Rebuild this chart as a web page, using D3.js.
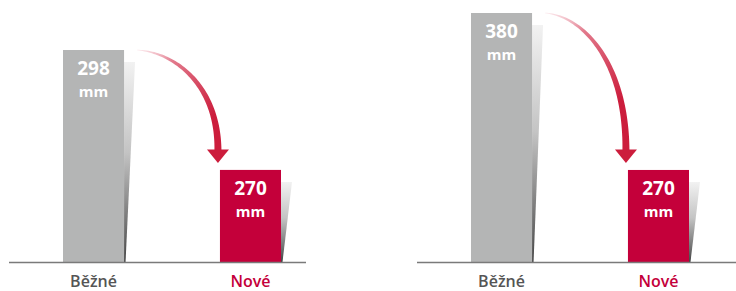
<!DOCTYPE html>
<html>
<head>
<meta charset="utf-8">
<script src="https://cdn.jsdelivr.net/npm/d3@7"></script>
<style>
body { margin: 0; background: #fff; }
text { font-family: "Open Sans", "Noto Sans", sans-serif; }
</style>
</head>
<body>
<div id="c"></div>
<script>
var categories = ["Běžné", "Nové"];
var panel_left = [298, 270];
var panel_right = [380, 270];
var unit = "mm";

var width = 736, height = 291;
var base_y = 262;
var grey = "#b4b5b5", red = "#c4003a";

var svg = d3.select("#c").append("svg")
	.attr("width", width)
	.attr("height", height);

var defs = svg.append("defs");

var shadow = defs.append("linearGradient")
	.attr("id", "shadow")
	.attr("x1", "0%").attr("y1", "0%")
	.attr("x2", "0%").attr("y2", "100%");
shadow.append("stop").attr("offset", "0%").attr("stop-color", "#f2f2f2");
shadow.append("stop").attr("offset", "45%").attr("stop-color", "#c4c4c4");
shadow.append("stop").attr("offset", "85%").attr("stop-color", "#6a6a6a");
shadow.append("stop").attr("offset", "100%").attr("stop-color", "#444");

function draw_panel(g_id, values, x_range, axis_range, y_min, y_top) {
	var g = svg.append("g").attr("id", g_id);

	var x = d3.scaleBand()
		.domain(categories)
		.range(x_range)
		.paddingInner(0.611)
		.paddingOuter(0);

	var y = d3.scaleLinear()
		.domain([y_min, values[0]])
		.range([base_y, y_top]);

	var bw = x.bandwidth();

	// shadow slivers
	g.selectAll(".shadow")
		.data(values)
		.enter()
		.append("path")
		.attr("class", "shadow")
		.attr("fill", "url(#shadow)")
		.attr("d", function(d, i) {
			var r = x(categories[i]) + bw, t = y(d) + 12;
			return "M" + r + "," + t + " L" + (r + 11) + "," + t +
				" L" + (r + 1.5) + "," + base_y + " L" + r + "," + base_y + "Z";
		});

	g.selectAll(".bar")
		.data(values)
		.enter()
		.append("rect")
		.attr("class", "bar")
		.attr("x", function(d, i) { return x(categories[i]); })
		.attr("y", function(d) { return y(d); })
		.attr("width", bw)
		.attr("height", function(d) { return base_y - y(d); })
		.attr("fill", function(d, i) { return i == 0 ? grey : red; });

	// axis line
	g.append("line")
		.attr("x1", axis_range[0]).attr("x2", axis_range[1])
		.attr("y1", base_y + 0.5).attr("y2", base_y + 0.5)
		.attr("stroke", "#7a7a7a")
		.attr("stroke-width", 1.3);

	// values + unit
	g.selectAll(".val")
		.data(values)
		.enter()
		.append("text")
		.attr("class", "val")
		.attr("text-anchor", "middle")
		.attr("fill", "#fff")
		.attr("font-weight", 700)
		.attr("font-size", "19px")
		.attr("x", function(d, i) { return x(categories[i]) + bw / 2; })
		.attr("y", function(d) { return y(d) + 25; })
		.text(function(d) { return d; });

	g.selectAll(".unit")
		.data(values)
		.enter()
		.append("text")
		.attr("class", "unit")
		.attr("text-anchor", "middle")
		.attr("fill", "#fff")
		.attr("font-weight", 700)
		.attr("font-size", "15px")
		.attr("x", function(d, i) { return x(categories[i]) + bw / 2; })
		.attr("y", function(d) { return y(d) + 47; })
		.text(unit);

	// category labels
	g.selectAll(".cat")
		.data(categories)
		.enter()
		.append("text")
		.attr("class", "cat")
		.attr("text-anchor", "middle")
		.attr("x", function(d) { return x(d) + bw / 2; })
		.attr("y", 287)
		.attr("fill", function(d, i) { return i == 0 ? "#555" : red; })
		.attr("font-weight", 600)
		.attr("font-size", "16px")
		.text(function(d) { return d; });

	// curved arrow, from top of first bar to just left of second bar
	var p0 = [x(categories[0]) + bw + 13, y(values[0])];
	var p3 = [x(categories[1]) - 2, y(values[1]) - 20];
	var dx = p3[0] - p0[0], dy = p3[1] - p0[1];
	var p1 = [p0[0] + dx * 0.46, p0[1] + dy * 0.02];
	var p2 = [p3[0], p0[1] + dy * 0.35];

	function bez(t) {
		var u = 1 - t;
		return [
			u*u*u*p0[0] + 3*u*u*t*p1[0] + 3*u*t*t*p2[0] + t*t*t*p3[0],
			u*u*u*p0[1] + 3*u*u*t*p1[1] + 3*u*t*t*p2[1] + t*t*t*p3[1]
		];
	}
	var n = 60, left_side = [], right_side = [];
	for (var i = 0; i <= n; i++) {
		var t = i / n;
		var a = bez(Math.max(0, t - 0.005)), b = bez(Math.min(1, t + 0.005));
		var tx = b[0] - a[0], ty = b[1] - a[1];
		var len = Math.sqrt(tx * tx + ty * ty);
		var nx = -ty / len, ny = tx / len;
		var w = (0.4 + 6.6 * Math.pow(t, 0.8)) / 2;
		var p = bez(t);
		left_side.push([p[0] + nx * w, p[1] + ny * w]);
		right_side.push([p[0] - nx * w, p[1] - ny * w]);
	}
	var pts = left_side.concat(right_side.reverse());

	var grad = defs.append("linearGradient")
		.attr("id", "arrow-" + g_id)
		.attr("gradientUnits", "userSpaceOnUse")
		.attr("x1", p0[0]).attr("y1", p0[1])
		.attr("x2", p3[0]).attr("y2", p0[1] + dy * 0.6);
	grad.append("stop").attr("offset", "0%").attr("stop-color", "#f6c9d2").attr("stop-opacity", 0.4);
	grad.append("stop").attr("offset", "35%").attr("stop-color", "#e27a8c");
	grad.append("stop").attr("offset", "100%").attr("stop-color", "#cc1d3c");

	g.append("path")
		.attr("d", d3.line()(pts) + "Z")
		.attr("fill", "url(#arrow-" + g_id + ")");

	g.append("path")
		.attr("d", "M" + (p3[0] - 11) + "," + (p3[1] - 0.5) + " L" + (p3[0] + 11) + "," + (p3[1] - 0.5) +
			" L" + p3[0] + "," + (p3[1] + 13) + "Z")
		.attr("fill", "#cc1d3c");
}

draw_panel("left", panel_left, [63, 281], [9, 306], 248.5, 50);
draw_panel("right", panel_right, [471, 689], [417, 736], 205.5, 13);
</script>
</body>
</html>
